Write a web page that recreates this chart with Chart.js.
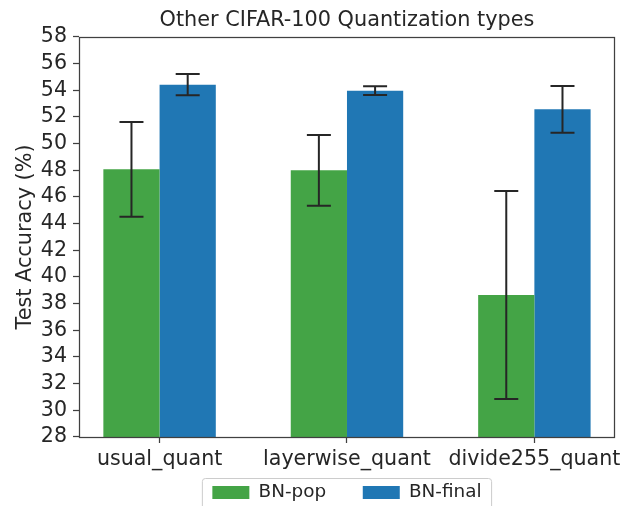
<!DOCTYPE html>
<html><head><meta charset="utf-8">
<script src="https://cdn.jsdelivr.net/npm/chart.js@4"></script>
<style>html,body{margin:0;padding:0;background:#fff}canvas{display:block}</style>
</head><body>
<canvas id="c" width="626" height="506"></canvas>
<script>
const categories = ['usual_quant', 'layerwise_quant', 'divide255_quant'];
const bnPop = [48.07, 48.0, 38.65];
const bnPopErr = [3.56, 2.65, 7.8];
const bnFinal = [54.42, 53.97, 52.57];
const bnFinalErr = [0.8, 0.33, 1.75];
const yTickValues = [28, 30, 32, 34, 36, 38, 40, 42, 44, 46, 48, 50, 52, 54, 56, 58];

const FONT = 'DejaVu Sans';
const TEXT = '#262626';
const SPINE = '#404040';

const errorBars = {
  id: 'errorBars',
  afterDatasetsDraw(chart) {
    const ctx = chart.ctx, ys = chart.scales.y;
    chart.data.datasets.forEach((ds, i) => {
      const meta = chart.getDatasetMeta(i);
      meta.data.forEach((bar, j) => {
        const v = ds.data[j].y, e = ds.errors[j];
        const x = bar.x;
        const t = ys.getPixelForValue(v + e), b = ys.getPixelForValue(v - e);
        ctx.save();
        ctx.strokeStyle = '#262626';
        ctx.lineWidth = 2;
        ctx.beginPath();
        ctx.moveTo(x, t); ctx.lineTo(x, b);
        ctx.moveTo(x - 12, t); ctx.lineTo(x + 12, t);
        ctx.moveTo(x - 12, b); ctx.lineTo(x + 12, b);
        ctx.stroke();
        ctx.restore();
      });
    });
  }
};

const frame = {
  id: 'frame',
  afterDatasetsDraw(chart) {
    const a = chart.chartArea, ctx = chart.ctx;
    ctx.save();
    ctx.strokeStyle = SPINE;
    ctx.lineWidth = 1.25;
    ctx.strokeRect(Math.round(a.left) + 0.5, Math.round(a.top) + 0.5, Math.round(a.right - a.left) - 1, Math.round(a.bottom - a.top));
    ctx.restore();
  }
};

// move the legend up so that it sits just under the tick labels (as in matplotlib)
const legendShift = {
  id: 'legendShift',
  afterLayout(chart) {
    const lg = chart.legend;
    if (!lg) return;
    lg.top = chart.chartArea.bottom + 9.7;
    lg.bottom = chart.height;
    lg.height = lg.bottom - lg.top;
  }
};

const legendFrame = {
  id: 'legendFrame',
  beforeDraw(chart) {
    const lg = chart.legend;
    if (!lg || !lg.legendHitBoxes || !lg.legendHitBoxes.length) return;
    const hb = lg.legendHitBoxes;
    const first = hb[0], last = hb[hb.length - 1];
    const l = first.left - 10.5, r = last.left + last.width + 10.5;
    const t = lg.top + lg.options.labels.padding - 5.3, b = chart.height + 6;
    const ctx = chart.ctx, rad = 3;
    ctx.save();
    ctx.strokeStyle = '#cccccc';
    ctx.lineWidth = 1;
    ctx.beginPath();
    ctx.moveTo(l + 0.5, b);
    ctx.lineTo(l + 0.5, t + rad + 0.5);
    ctx.arcTo(l + 0.5, t + 0.5, l + rad + 0.5, t + 0.5, rad);
    ctx.lineTo(r - rad - 0.5, t + 0.5);
    ctx.arcTo(r - 0.5, t + 0.5, r - 0.5, t + rad + 0.5, rad);
    ctx.lineTo(r - 0.5, b);
    ctx.stroke();
    ctx.restore();
  }
};

new Chart(document.getElementById('c'), {
  type: 'bar',
  data: {
    datasets: [
      { label: 'BN-pop', data: categories.map((c, i) => ({ x: i, y: bnPop[i] })), errors: bnPopErr,
        backgroundColor: '#44a446', borderWidth: 0 },
      { label: 'BN-final', data: categories.map((c, i) => ({ x: i, y: bnFinal[i] })), errors: bnFinalErr,
        backgroundColor: '#2077b4', borderWidth: 0 }
    ]
  },
  options: {
    responsive: false,
    animation: false,
    events: [],
    categoryPercentage: 0.6,
    barPercentage: 1.0,
    layout: { padding: { left: 0, right: 9, top: 0, bottom: 0 } },
    plugins: {
      title: { display: true, text: 'Other CIFAR-100 Quantization types', fullSize: false, color: TEXT,
        font: { family: FONT, size: 20.8, weight: 'normal' }, padding: { top: 8.5, bottom: 3.5 } },
      legend: { position: 'bottom', fullSize: false, maxHeight: 33,
        labels: { boxWidth: 37, boxHeight: 13, padding: 36.6, color: TEXT, font: { family: FONT, size: 18.4 } } },
      tooltip: { enabled: false }
    },
    scales: {
      x: {
        type: 'linear', min: -0.43, max: 2.43, offset: false,
        afterBuildTicks(s) { s.ticks = categories.map((c, i) => ({ value: i })); },
        afterFit(s) { s.height = 36; },
        ticks: { autoSkip: false, maxRotation: 0, minRotation: 0, padding: 4, color: TEXT,
          font: { family: FONT, size: 20.6 }, callback: (v, i) => categories[i] },
        grid: { drawOnChartArea: false, offset: false, tickLength: 6, color: SPINE, tickWidth: 1.25 },
        border: { display: false }
      },
      y: {
        min: 28, max: 58,
        afterBuildTicks(s) { s.ticks = yTickValues.map(v => ({ value: v })); },
        afterFit(s) { s.width = 79; },
        ticks: { autoSkip: false, padding: 6, color: TEXT, font: { family: FONT, size: 20.6 } },
        title: { display: true, text: 'Test Accuracy (%)', color: TEXT, font: { family: FONT, size: 20.8 },
          padding: { top: 13, bottom: 0 } },
        grid: { drawOnChartArea: false, tickLength: 6, color: SPINE, tickWidth: 1.25 },
        border: { display: false }
      }
    }
  },
  plugins: [legendShift, legendFrame, errorBars, frame]
});
</script>
</body></html>
